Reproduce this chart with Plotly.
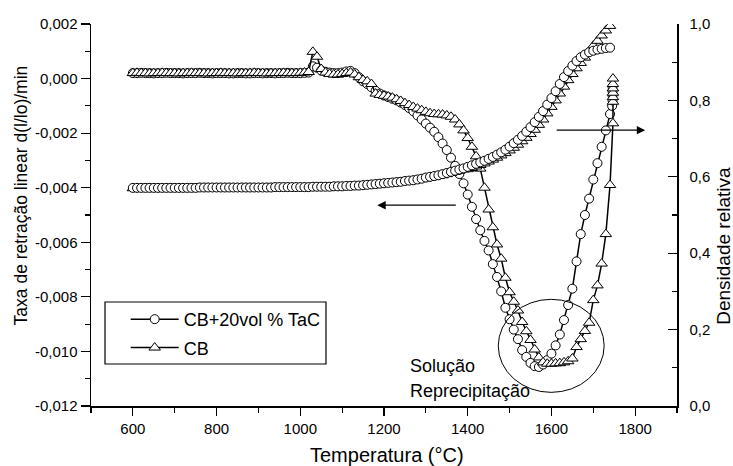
import plotly.graph_objects as go

# ---------------- data ----------------
temp = [600, 610, 620, 630, 640, 650, 660, 670, 680, 690,
        700, 710, 720, 730, 740, 750, 760, 770, 780, 790,
        800, 810, 820, 830, 840, 850, 860, 870, 880, 890,
        900, 910, 920, 930, 940, 950, 960, 970, 980, 990,
        1000, 1010, 1020, 1030, 1040, 1050, 1060, 1070, 1080, 1090,
        1100, 1110, 1120, 1130, 1140, 1150, 1160, 1170, 1180, 1190,
        1200, 1210, 1220, 1230, 1240, 1250, 1260, 1270, 1280, 1290,
        1300, 1310, 1320, 1330, 1340, 1350, 1360, 1370, 1380, 1390,
        1400, 1410, 1420, 1430, 1440, 1450, 1460, 1470, 1480, 1490,
        1500, 1510, 1520, 1530, 1540, 1550, 1560, 1570, 1580, 1590,
        1600, 1610, 1620, 1630, 1640, 1650, 1660, 1670, 1680, 1690,
        1700, 1710, 1720, 1730, 1740]

# end of run (isothermal hold at ~1745 C)
temp_end_tac = [1745, 1746, 1746, 1746, 1746]
temp_end_cb = [1747, 1747, 1747, 1747, 1747, 1747, 1747]

# linear shrinkage rate, CB+20vol% TaC (circles)
rate_tac = [0.00020, 0.00020, 0.00021, 0.00020, 0.00020, 0.00019, 0.00020, 0.00020, 0.00021, 0.00020,
            0.00020, 0.00020, 0.00019, 0.00020, 0.00020, 0.00020, 0.00021, 0.00020, 0.00020, 0.00019,
            0.00020, 0.00020, 0.00020, 0.00019, 0.00019, 0.00020, 0.00020, 0.00019, 0.00019, 0.00020,
            0.00020, 0.00019, 0.00020, 0.00020, 0.00019, 0.00020, 0.00020, 0.00021, 0.00020, 0.00020,
            0.00020, 0.00021, 0.00022, 0.00045, 0.00040, 0.00030, 0.00025, 0.00022, 0.00020, 0.00020,
            0.00022, 0.00026, 0.00028, 0.00020, 0.00005, -0.00010, -0.00020, -0.00032, -0.00045, -0.00055,
            -0.00062, -0.00068, -0.00074, -0.00080, -0.00088, -0.00097, -0.00108, -0.00120, -0.00135, -0.00150,
            -0.00165, -0.00180, -0.00195, -0.00215, -0.00238, -0.00262, -0.00290, -0.00320, -0.00350, -0.00384,
            -0.00425, -0.00470, -0.00515, -0.00556, -0.00595, -0.00630, -0.00680, -0.00727, -0.00780, -0.00840,
            -0.00882, -0.00920, -0.00955, -0.00995, -0.01020, -0.01042, -0.01054, -0.01057, -0.01048, -0.01032,
            -0.01008, -0.00978, -0.00938, -0.00885, -0.00830, -0.00770, -0.00670, -0.00570, -0.00500, -0.00440,
            -0.00370, -0.00310, -0.00250, -0.00190, -0.00130]
rate_tac_end = [-0.00100, -0.00080, -0.00062, -0.00046, -0.00030]

# linear shrinkage rate, CB (triangles)
rate_cb = [0.00020, 0.00021, 0.00020, 0.00020, 0.00019, 0.00020, 0.00020, 0.00021, 0.00020, 0.00020,
           0.00020, 0.00019, 0.00020, 0.00020, 0.00021, 0.00020, 0.00020, 0.00020, 0.00019, 0.00020,
           0.00020, 0.00021, 0.00020, 0.00020, 0.00020, 0.00019, 0.00020, 0.00020, 0.00020, 0.00021,
           0.00020, 0.00020, 0.00019, 0.00020, 0.00020, 0.00020, 0.00021, 0.00020, 0.00020, 0.00020,
           0.00021, 0.00022, 0.00024, 0.00098, 0.00080, 0.00035, 0.00022, 0.00017, 0.00015, 0.00015,
           0.00017, 0.00020, 0.00022, 0.00015, 0.00005, -0.00005, -0.00010, -0.00020, -0.00055, -0.00060,
           -0.00063, -0.00066, -0.00070, -0.00076, -0.00082, -0.00090, -0.00097, -0.00104, -0.00110, -0.00116,
           -0.00122, -0.00127, -0.00130, -0.00131, -0.00132, -0.00135, -0.00140, -0.00150, -0.00168, -0.00190,
           -0.00218, -0.00250, -0.00285, -0.00330, -0.00400, -0.00480, -0.00545, -0.00608, -0.00660, -0.00730,
           -0.00783, -0.00818, -0.00850, -0.00892, -0.00926, -0.00958, -0.00993, -0.01022, -0.01040, -0.01045,
           -0.01045, -0.01044, -0.01043, -0.01040, -0.01036, -0.01026, -0.00984, -0.00955, -0.00925, -0.00895,
           -0.00812, -0.00758, -0.00678, -0.00570, -0.00390]
rate_cb_end = [-0.00164, -0.00085, -0.00068, -0.00052, -0.00036, -0.00020, 0.00000]

# relative density, CB+20vol% TaC (circles)
dens_tac = [0.571, 0.571, 0.571, 0.571, 0.571, 0.571, 0.571, 0.571, 0.571, 0.571,
            0.571, 0.571, 0.571, 0.571, 0.571, 0.571, 0.572, 0.572, 0.572, 0.572,
            0.572, 0.572, 0.572, 0.572, 0.572, 0.572, 0.572, 0.572, 0.572, 0.572,
            0.572, 0.572, 0.572, 0.572, 0.573, 0.573, 0.573, 0.573, 0.573, 0.573,
            0.573, 0.573, 0.573, 0.574, 0.574, 0.574, 0.574, 0.574, 0.575, 0.575,
            0.575, 0.576, 0.576, 0.577, 0.577, 0.578, 0.579, 0.580, 0.581, 0.582,
            0.583, 0.584, 0.585, 0.586, 0.587, 0.589, 0.590, 0.591, 0.593, 0.595,
            0.598, 0.600, 0.602, 0.604, 0.607, 0.610, 0.613, 0.616, 0.619, 0.622,
            0.626, 0.630, 0.634, 0.638, 0.642, 0.647, 0.652, 0.658, 0.664, 0.671,
            0.679, 0.688, 0.697, 0.707, 0.718, 0.730, 0.743, 0.757, 0.772, 0.789,
            0.806, 0.824, 0.843, 0.861, 0.877, 0.891, 0.903, 0.913, 0.920, 0.926,
            0.930, 0.933, 0.935, 0.937, 0.938]

# relative density, CB (triangles)
dens_cb = [0.570, 0.570, 0.570, 0.570, 0.570, 0.570, 0.570, 0.570, 0.570, 0.570,
           0.570, 0.570, 0.570, 0.570, 0.570, 0.570, 0.571, 0.571, 0.571, 0.571,
           0.571, 0.571, 0.571, 0.571, 0.571, 0.571, 0.571, 0.571, 0.571, 0.571,
           0.571, 0.571, 0.571, 0.571, 0.572, 0.572, 0.572, 0.572, 0.572, 0.572,
           0.572, 0.572, 0.572, 0.573, 0.573, 0.573, 0.573, 0.573, 0.574, 0.574,
           0.574, 0.575, 0.575, 0.576, 0.576, 0.577, 0.578, 0.579, 0.580, 0.581,
           0.582, 0.583, 0.584, 0.585, 0.586, 0.588, 0.589, 0.590, 0.592, 0.594,
           0.596, 0.598, 0.600, 0.602, 0.604, 0.607, 0.610, 0.613, 0.616, 0.619,
           0.620, 0.623, 0.627, 0.631, 0.635, 0.640, 0.645, 0.650, 0.656, 0.662,
           0.669, 0.676, 0.684, 0.693, 0.702, 0.712, 0.723, 0.736, 0.750, 0.766,
           0.783, 0.800, 0.818, 0.836, 0.853, 0.869, 0.884, 0.898, 0.912, 0.928,
           0.943, 0.956, 0.970, 0.983, 0.995]

series_names = ["CB+20vol % TaC", "CB"]

x_ticks = [600, 800, 1000, 1200, 1400, 1600, 1800]
x_minor = [500, 700, 900, 1100, 1300, 1500, 1700, 1900]
y_ticks = [-0.012, -0.010, -0.008, -0.006, -0.004, -0.002, 0.000, 0.002]
y_ticklabels = ["-0,012", "-0,010", "-0,008", "-0,006", "-0,004", "-0,002", "0,000", "0,002"]
y_minor = [-0.011, -0.009, -0.007, -0.005, -0.003, -0.001, 0.001]
y2_ticks = [0.0, 0.2, 0.4, 0.6, 0.8, 1.0]
y2_ticklabels = ["0,0", "0,2", "0,4", "0,6", "0,8", "1,0"]
y2_minor = [0.1, 0.3, 0.5, 0.7, 0.9]

# ---------------- figure ----------------
FONT = "Liberation Sans, Arial, sans-serif"
circle_marker = dict(symbol="circle", size=9, color="white", line=dict(color="black", width=1))
tri_marker = dict(symbol="triangle-up", size=10, color="white", line=dict(color="black", width=1))
line_style = dict(color="black", width=1.5)

fig = go.Figure()

# density curves (right axis)
fig.add_trace(go.Scatter(x=temp, y=dens_cb, mode="lines+markers", marker=tri_marker,
                         line=line_style, yaxis="y2", showlegend=False))
fig.add_trace(go.Scatter(x=temp, y=dens_tac, mode="lines+markers", marker=circle_marker,
                         line=line_style, yaxis="y2", showlegend=False))
# rate curves (left axis)
fig.add_trace(go.Scatter(x=temp + temp_end_tac, y=rate_tac + rate_tac_end, mode="lines+markers",
                         marker=circle_marker, line=line_style, name=series_names[0], legendgroup="g1"))
fig.add_trace(go.Scatter(x=temp + temp_end_cb, y=rate_cb + rate_cb_end, mode="lines+markers",
                         marker=tri_marker, line=line_style, name=series_names[1], legendgroup="g2"))

axis_common = dict(showline=True, linecolor="black", linewidth=1.5, showgrid=False, zeroline=False,
                   tickcolor="black", tickwidth=1.2, tickfont=dict(size=15, color="black", family=FONT))

fig.update_layout(
    width=733, height=466,
    margin=dict(l=91, r=56, t=24, b=60),
    paper_bgcolor="white", plot_bgcolor="white",
    font=dict(family=FONT, color="black"),
    hovermode=False,
    xaxis=dict(range=[500, 1900], tickmode="array", tickvals=x_ticks, ticks="outside", ticklen=8,
               minor=dict(tickvals=x_minor, ticks="outside", ticklen=5, tickcolor="black", tickwidth=1.2),
               **axis_common),
    yaxis=dict(range=[-0.012, 0.002], tickmode="array", tickvals=y_ticks, ticktext=y_ticklabels,
               ticks="outside", ticklen=9,
               minor=dict(tickvals=y_minor, ticks="outside", ticklen=5, tickcolor="black", tickwidth=1.2),
               **axis_common),
    yaxis2=dict(range=[0, 1], overlaying="y", side="right", tickmode="array", tickvals=y2_ticks,
                ticktext=y2_ticklabels, ticks="inside", ticklen=9, ticklabelstandoff=8,
                minor=dict(tickvals=y2_minor, ticks="inside", ticklen=5, tickcolor="black", tickwidth=1.2),
                **axis_common),
    legend=dict(x=0.0592, y=0.275, xanchor="left", yanchor="top", borderwidth=0,
                bgcolor="rgba(0,0,0,0)", font=dict(size=18, family=FONT, color="black"),
                itemwidth=48, traceorder="grouped", tracegroupgap=2),
)

# legend frame
fig.add_shape(type="rect", xref="paper", yref="paper", x0=0.0239, x1=0.401, y0=0.110, y1=0.2723,
              line=dict(color="black", width=1.2), fillcolor="rgba(0,0,0,0)", layer="below")

# ellipse around the minimum
fig.add_shape(type="circle", xref="x", yref="y", x0=1473, x1=1726, y0=-0.0115, y1=-0.00809,
              line=dict(color="black", width=1))

# arrows pointing to the respective axes
fig.add_annotation(x=1184, y=-0.00464, ax=1375, ay=-0.00464, xref="x", yref="y", axref="x", ayref="y",
                   text="", showarrow=True, arrowhead=2, arrowsize=1.4, arrowwidth=1.2, arrowcolor="black")
fig.add_annotation(x=1824, y=-0.00189, ax=1609, ay=-0.00189, xref="x", yref="y", axref="x", ayref="y",
                   text="", showarrow=True, arrowhead=2, arrowsize=1.4, arrowwidth=1.2, arrowcolor="black")

# text annotations
fig.add_annotation(x=1258, y=-0.010545, xref="x", yref="y", text="Solução", showarrow=False,
                   xanchor="left", yanchor="middle", font=dict(size=18, family=FONT, color="black"))
fig.add_annotation(x=1258, y=-0.01146, xref="x", yref="y", text="Reprecipitação", showarrow=False,
                   xanchor="left", yanchor="middle", font=dict(size=18, family=FONT, color="black"))

# axis titles
fig.add_annotation(x=0.505, y=-0.128, xref="paper", yref="paper", text="Temperatura (°C)", showarrow=False,
                   xanchor="center", yanchor="middle", font=dict(size=20, family=FONT, color="black"))
fig.add_annotation(x=-0.1203, y=0.55, xref="paper", yref="paper", text="Taxa de retração linear d(l/lo)/min",
                   showarrow=False, textangle=-90, xanchor="center", yanchor="middle",
                   font=dict(size=17.5, family=FONT, color="black"))
fig.add_annotation(x=1.080, y=0.419, xref="paper", yref="paper", text="Densidade relativa",
                   showarrow=False, textangle=-90, xanchor="center", yanchor="middle",
                   font=dict(size=19, family=FONT, color="black"))

fig.write_html("out.html", config={"displayModeBar": False, "staticPlot": True},
               post_script="document.body.style.margin='0';")
